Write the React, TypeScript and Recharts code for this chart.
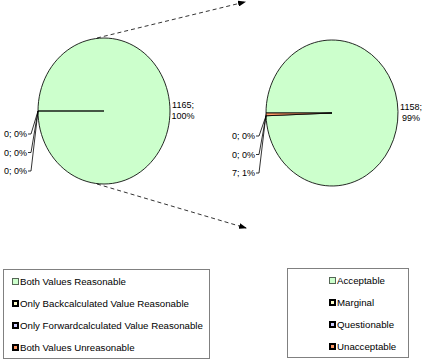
import React from 'react';
import { PieChart, Pie, Cell } from 'recharts';

// left pie: reasonableness of the values
const groupNames = [
  'Both Values Reasonable',
  'Only Backcalculated Value Reasonable',
  'Only Forwardcalculated Value Reasonable',
  'Both Values Unreasonable',
];
const groupCounts = [1165, 0, 0, 0];

// right pie: quality rating
const qualityNames = ['Acceptable', 'Marginal', 'Questionable', 'Unacceptable'];
const qualityCounts = [1158, 0, 0, 7];

const sliceColors = ['#CCFFCC', '#FFFFCC', '#CCCCFF', '#FF9966'];

const groupData = groupNames.map((name, i) => ({ name, value: groupCounts[i] }));
const qualityData = qualityNames.map((name, i) => ({ name, value: qualityCounts[i] }));

const W = 427;
const H = 360;
const R = 66;
const KY = 73 / 66; // pies are drawn slightly taller than wide
const FONT = '"Liberation Sans", Arial, sans-serif';

const LEFT = { cx: 104, cy: 111 };
const RIGHT = { cx: 332, cy: 113 };

const makeLabel = (cy0: number) => (props: any) => {
  const { cx, midAngle, outerRadius, index, value, percent } = props;
  const pct = Math.round(percent * 100) + '%';
  if (index === 0) {
    const x = cx + outerRadius + 13;
    return (
      <text x={x} y={cy0} fontSize={9} fontFamily={FONT} fill="#000" textAnchor="middle">
        <tspan x={x} dy={-3}>{value};</tspan>
        <tspan x={x} dy={11}>{pct}</tspan>
      </text>
    );
  }
  const tx = cx - outerRadius - 11;
  const ty = cy0 + 23 + (index - 1) * 18.5;
  const rad = (-midAngle * Math.PI) / 180;
  const ex = cx + outerRadius * Math.cos(rad);
  const ey = cy0 + outerRadius * KY * Math.sin(rad);
  return (
    <g>
      <polyline
        points={`${tx + 1},${ty} ${tx + 4},${ty} ${ex},${ey}`}
        fill="none"
        stroke="#000"
        strokeWidth={0.8}
      />
      <text x={tx} y={ty + 3} fontSize={9} fontFamily={FONT} fill="#000" textAnchor="end">
        {value}; {pct}
      </text>
    </g>
  );
};

const css = `
.pie-left .recharts-pie-sector { transform-origin: ${LEFT.cx}px ${LEFT.cy}px; transform: scale(1, ${KY}); }
.pie-right .recharts-pie-sector { transform-origin: ${RIGHT.cx}px ${RIGHT.cy}px; transform: scale(1, ${KY}); }
`;

const LegendBox = ({ names, left, top, width, markerX }: any) => (
  <div
    style={{
      position: 'absolute',
      left,
      top,
      width,
      height: 90,
      border: '1px solid #808080',
      boxSizing: 'border-box',
      fontFamily: FONT,
      fontSize: 9.7,
      background: '#fff',
    }}
  >
    {names.map((n: string, i: number) => (
      <div
        key={n}
        style={{ position: 'absolute', left: markerX, top: 5.5 + i * 22, height: 12, display: 'flex', alignItems: 'center', whiteSpace: 'nowrap' }}
      >
        <span
          style={{
            display: 'inline-block',
            width: 7,
            height: 7,
            boxSizing: 'border-box',
            background: sliceColors[i],
            border: i === 0 ? '1px solid #556655' : '2px solid #000',
            marginRight: 1,
          }}
        />
        {n}
      </div>
    ))}
  </div>
);

export default function App() {
  const top0 = LEFT.cy - R * KY;
  const bot0 = LEFT.cy + R * KY;
  return (
    <div style={{ position: 'absolute', left: 0, top: 0, width: W, height: H, background: '#fff' }}>
      <style>{css}</style>
      <PieChart width={W} height={H} margin={{ top: 0, right: 0, bottom: 0, left: 0 }}>
        <Pie
          className="pie-left"
          data={groupData}
          dataKey="value"
          nameKey="name"
          cx={LEFT.cx}
          cy={LEFT.cy}
          outerRadius={R}
          startAngle={180}
          endAngle={-180}
          stroke="#000"
          strokeWidth={0.8}
          label={makeLabel(LEFT.cy)}
          labelLine={false}
          isAnimationActive={false}
        >
          {groupData.map((d, i) => (
            <Cell key={d.name} fill={sliceColors[i]} />
          ))}
        </Pie>
        <Pie
          className="pie-right"
          data={qualityData}
          dataKey="value"
          nameKey="name"
          cx={RIGHT.cx}
          cy={RIGHT.cy}
          outerRadius={R}
          startAngle={180}
          endAngle={-180}
          stroke="#000"
          strokeWidth={0.8}
          label={makeLabel(RIGHT.cy)}
          labelLine={false}
          isAnimationActive={false}
        >
          {qualityData.map((d, i) => (
            <Cell key={d.name} fill={sliceColors[i]} />
          ))}
        </Pie>
      </PieChart>
      <svg width={W} height={H} style={{ position: 'absolute', left: 0, top: 0, pointerEvents: 'none' }}>
        <defs>
          <marker id="arr" markerWidth="8" markerHeight="6" refX="7" refY="3" orient="auto" markerUnits="userSpaceOnUse">
            <path d="M0,0 L8,3 L0,6 z" fill="#000" />
          </marker>
        </defs>
        <line x1={LEFT.cx - 7} y1={top0} x2={245} y2={2} stroke="#000" strokeWidth={0.8} strokeDasharray="4 3" markerEnd="url(#arr)" />
        <line x1={LEFT.cx - 7} y1={bot0} x2={246} y2={228} stroke="#000" strokeWidth={0.8} strokeDasharray="4 3" markerEnd="url(#arr)" />
      </svg>
      <LegendBox names={groupNames} left={3} top={269} width={207} markerX={8} />
      <LegendBox names={qualityNames} left={287} top={268} width={122} markerX={41} />
    </div>
  );
}
